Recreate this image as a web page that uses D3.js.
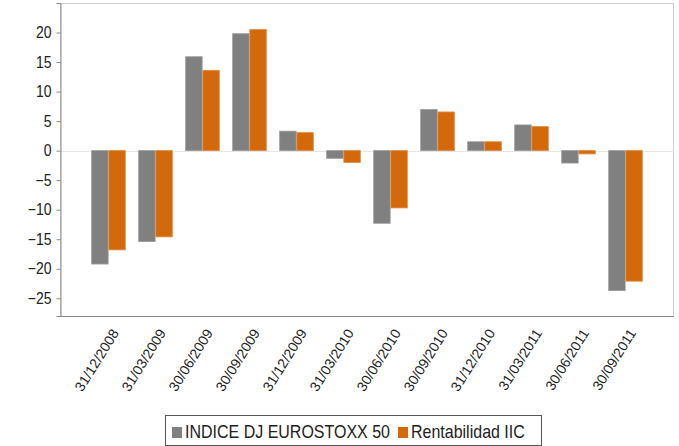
<!DOCTYPE html>
<meta charset="utf-8">
<style>
  body { margin: 0; background: #fff; }
  text { font-family: "Liberation Sans", Arial, sans-serif; fill: #222; }
</style>

<!-- Load d3.js -->
<script src="https://d3js.org/d3.v7.min.js"></script>

<div id="my_dataviz"></div>

<script>

// data
var fechas = ["31/12/2008", "31/03/2009", "30/06/2009", "30/09/2009", "31/12/2009", "31/03/2010",
              "30/06/2010", "30/09/2010", "31/12/2010", "31/03/2011", "30/06/2011", "30/09/2011"];
var series = ["INDICE DJ EUROSTOXX 50", "Rentabilidad IIC"];
var eurostoxx = [-19.2, -15.4, 15.9, 19.8, 3.3, -1.3, -12.3, 6.95, 1.5, 4.35, -2.1, -23.7];
var rentabilidad = [-16.8, -14.6, 13.6, 20.5, 3.05, -2.0, -9.7, 6.55, 1.5, 4.07, -0.55, -22.1];
var yTicks = [-25, -20, -15, -10, -5, 0, 5, 10, 15, 20];

var colores = ["#808080", "#d4690c"];

var margin = {top: 3, right: 5, bottom: 130, left: 60},
    width = 679 - margin.left - margin.right,
    height = 446 - margin.top - margin.bottom;

var svg = d3.select("#my_dataviz")
  .append("svg")
    .attr("width", 679)
    .attr("height", 446)
  .append("g")
    .attr("transform", "translate(" + margin.left + "," + margin.top + ")");

// X scales: one band per date, then one sub band per series
var x = d3.scaleBand()
  .domain(fechas)
  .range([0, width])
  .paddingInner(0.285)
  .paddingOuter(0.674);

var xSub = d3.scaleBand()
  .domain(series)
  .range([0, x.bandwidth()])
  .paddingInner(0.04);

var y = d3.scaleLinear()
  .domain([-28, 25])
  .range([height, 0]);

// frame: light top / right, darker left / bottom
svg.append("rect")
    .attr("x", 0.5)
    .attr("y", 0.5)
    .attr("width", width - 1)
    .attr("height", height)
    .style("fill", "none")
    .style("stroke", "#d0d0d0");

// zero line
svg.append("line")
    .attr("x1", 0)
    .attr("x2", width)
    .attr("y1", Math.round(y(0)) + 0.5)
    .attr("y2", Math.round(y(0)) + 0.5)
    .style("stroke", "#e6e6e6");

// Y axis
var yAxis = svg.append("g")
  .attr("transform", "translate(0.5,0)")
  .call(d3.axisLeft(y).tickValues(yTicks).tickSize(4).tickPadding(5));
yAxis.select(".domain").attr("stroke", "#8a8a8a");
yAxis.selectAll(".tick line").attr("stroke", "#8a8a8a");
// labels look a little stretched vertically in the original
yAxis.selectAll(".tick text")
    .attr("font-family", null)
    .style("font-size", "14px")
    .attr("transform", "scale(1,1.15)");

// bottom axis line
svg.append("line")
    .attr("x1", 0)
    .attr("x2", width)
    .attr("y1", height + 0.5)
    .attr("y2", height + 0.5)
    .style("stroke", "#8a8a8a");

// X labels (rotated)
svg.append("g")
  .selectAll("text")
  .data(fechas)
  .enter()
  .append("text")
    .attr("text-anchor", "end")
    .style("font-size", "14px")
    .attr("transform", function(d) {
      return "translate(" + (x(d) + x.bandwidth() / 2 + 11) + "," + (height + 17) + ") rotate(-58)";
    })
    .text(function(d) { return d; });

// bars
var valores = [eurostoxx, rentabilidad];
var barData = [];
fechas.forEach(function(f, i) {
  series.forEach(function(s, j) {
    barData.push({fecha: f, serie: s, valor: valores[j][i], idx: j});
  });
});

svg.append("g")
  .selectAll("rect")
  .data(barData)
  .enter()
  .append("rect")
    .attr("x", function(d) { return x(d.fecha) + xSub(d.serie); })
    .attr("width", xSub.bandwidth())
    .attr("y", function(d) { return y(Math.max(0, d.valor)); })
    .attr("height", function(d) { return Math.abs(y(d.valor) - y(0)); })
    .style("fill", function(d) { return colores[d.idx]; })
    .style("stroke", function(d) { return d.idx == 0 ? "#9a9a9a" : "#e08a40"; })
    .style("stroke-width", 0.8);

// legend
var legend = d3.select("svg").append("g");
legend.append("rect")
    .attr("x", 165.5)
    .attr("y", 415.5)
    .attr("width", 376)
    .attr("height", 30)
    .style("fill", "#fff")
    .style("stroke", "#555");

var legX = [172, 398];
series.forEach(function(s, j) {
  legend.append("rect")
      .attr("x", legX[j])
      .attr("y", 427)
      .attr("width", 10)
      .attr("height", 11)
      .style("fill", colores[j]);
  legend.append("text")
      .attr("transform", "translate(" + (legX[j] + 13) + ",438) scale(1,1.15)")
      .style("font-size", "16px")
      .text(s);
});

</script>
